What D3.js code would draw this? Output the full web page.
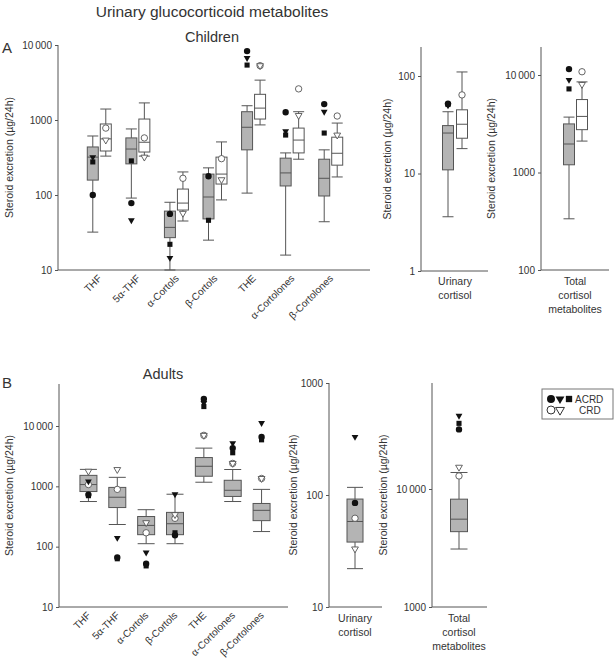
<!DOCTYPE html>
<html>
<head>
<meta charset="utf-8">
<script src="https://cdn.jsdelivr.net/npm/d3@7"></script>
<style>
  body { margin: 0; background: #fff; }
  svg { font-family: "Liberation Sans", Arial, sans-serif; }
  text { fill: #333; }
</style>
</head>
<body>
<svg id="chart" width="616" height="668"></svg>
<script>
// Categories
const categories = ["THF", "5α-THF", "α-Cortols", "β-Cortols", "THE", "α-Cortolones", "β-Cortolones"];

// Box stats: [whisker low, q1, median, q3, whisker high]
const childACRD = [
    [32, 158, 320, 437, 612],
    [91, 260, 410, 577, 760],
    [10, 27, 37, 61, 80],
    [25, 48, 94, 190, 230],
    [106, 400, 800, 1290, 1550],
    [15.8, 132, 197, 310, 364],
    [44, 97, 167, 300, 400]
];
const childCRD = [
    [330, 386, 560, 885, 1400],
    [330, 374, 505, 1030, 1690],
    [45, 63, 78, 120, 203],
    [86, 140, 190, 320, 510],
    [860, 1030, 1440, 2200, 3400],
    [300, 364, 540, 780, 1290],
    [174, 250, 360, 590, 910]
];
// Individual patients: [circle, triangle, square]
const childACRDPts = [
    [100, 320, 276],
    [78, 46, 285],
    [56, 14.5, 22],
    [178, null, 46],
    [8300, 6700, 5400],
    [1270, 710, 630],
    [1630, 1290, 670]
];
const childCRDPts = [
    [780, 540],
    [577, 320],
    [167, 57],
    [305, 160],
    [5300, 5300],
    [2600, 1150],
    [1130, 630]
];

const childCortisolACRD = [3.6, 10.9, 26, 31, 43];
const childCortisolCRD = [18, 23, 32, 45, 110];
const childCortisolACRDPts = [52, 50, 51];
const childCortisolCRDPts = [64, null];

const childTotalACRD = [335, 1200, 1960, 3150, 3700];
const childTotalCRD = [2100, 2750, 3760, 5600, 8500];
const childTotalACRDPts = [11500, 8900, 7200];
const childTotalCRDPts = [10800, 8000];

const adultBox = [
    [560, 820, 1070, 1520, 1910],
    [233, 445, 660, 960, 1410],
    [112, 158, 225, 316, 410],
    [112, 158, 240, 370, 740],
    [1170, 1470, 2150, 3000, 4300],
    [560, 680, 860, 1260, 1900],
    [178, 270, 400, 520, 890]
];
const adultACRDPts = [
    [730, 1210, 700],
    [66, 140, 63],
    [52, 80, 48],
    [155, 740, 170],
    [28000, 24000, 21000],
    [4300, 5200, 3600],
    [6600, 11200, 5900]
];
const adultCRDPts = [
    [1070, 1780],
    [890, 1900],
    [170, 250],
    [295, 340],
    [7000, 7000],
    [2400, 2400],
    [1350, 1350]
];

const adultCortisolBox = [22, 38, 58, 92, 117];
const adultCortisolACRDPts = [85, 330, null];
const adultCortisolCRDPts = [62, 33];

const adultTotalBox = [3100, 4350, 5550, 8200, 13800];
const adultTotalACRDPts = [32000, 41700, 36000];
const adultTotalCRDPts = [12900, 15300];

const GREY = "#b4b4b4";
const LINE = "#555";

const svg = d3.select("#chart");

const fmt = d => d >= 10000 ? String(d).replace(/(\d+)(\d{3})$/, "$1\u2009$2") : String(d);

// Draws an axis frame; returns y scale
function frame(o) {
    const y = d3.scaleLog().domain(o.domain).range(o.range);
    const g = svg.append("g");
    const axis = d3.axisLeft(y)
        .tickValues(o.ticks)
        .tickSize(3)
        .tickFormat(fmt);
    g.append("g")
        .attr("transform", `translate(${o.left},0)`)
        .call(axis)
        .call(a => a.select(".domain").remove())
        .call(a => a.selectAll("line").attr("stroke", LINE))
        .call(a => a.selectAll("text").attr("font-size", 10).attr("fill", "#333")
            .attr("font-family", "Liberation Sans, Arial, sans-serif"));
    g.append("line")
        .attr("x1", o.left).attr("x2", o.left)
        .attr("y1", o.range[0]).attr("y2", o.top)
        .attr("stroke", LINE);
    g.append("line")
        .attr("x1", o.left).attr("x2", o.right)
        .attr("y1", o.range[0]).attr("y2", o.range[0])
        .attr("stroke", LINE);
    const midY = (o.range[0] + o.top) / 2;
    g.append("text")
        .attr("transform", `translate(${o.labelX},${midY}) rotate(-90)`)
        .attr("text-anchor", "middle")
        .attr("font-size", 10.5)
        .text("Steroid excretion (µg/24h)");
    return y;
}

function box(y, cx, w, stats, fill) {
    const [lo, q1, med, q3, hi] = stats;
    const g = svg.append("g").attr("stroke", LINE).attr("stroke-width", 1);
    g.append("line").attr("x1", cx).attr("x2", cx).attr("y1", y(lo)).attr("y2", y(q1));
    g.append("line").attr("x1", cx).attr("x2", cx).attr("y1", y(q3)).attr("y2", y(hi));
    g.append("line").attr("x1", cx - w / 2).attr("x2", cx + w / 2).attr("y1", y(lo)).attr("y2", y(lo));
    g.append("line").attr("x1", cx - w / 2).attr("x2", cx + w / 2).attr("y1", y(hi)).attr("y2", y(hi));
    g.append("rect")
        .attr("x", cx - w / 2).attr("width", w)
        .attr("y", y(q3)).attr("height", y(q1) - y(q3))
        .attr("fill", fill);
    g.append("line").attr("x1", cx - w / 2).attr("x2", cx + w / 2).attr("y1", y(med)).attr("y2", y(med));
}

const shapes = [d3.symbolCircle, d3.symbolTriangle, d3.symbolSquare];
const sizes = [32, 20, 26];

function points(y, cx, vals, filled) {
    vals.forEach((v, i) => {
        if (v == null) return;
        const rot = i === 1 ? " rotate(180)" : "";
        svg.append("path")
            .attr("d", d3.symbol(shapes[i], sizes[i])())
            .attr("transform", `translate(${cx},${y(v)})${rot}`)
            .attr("fill", filled ? "#111" : "#fff")
            .attr("stroke", filled ? "none" : LINE)
            .attr("stroke-width", 0.9);
    });
}

function catLabels(x, base) {
    categories.forEach(c => {
        const cx = x(c) + x.bandwidth() / 2 + 3;
        svg.append("text")
            .attr("transform", `translate(${cx},${base + 9}) rotate(-45)`)
            .attr("text-anchor", "end")
            .attr("font-size", 10)
            .text(c);
    });
}

function multiLabel(cx, y0, lines) {
    lines.forEach((l, i) => {
        svg.append("text")
            .attr("x", cx).attr("y", y0 + i * 14)
            .attr("text-anchor", "middle")
            .attr("font-size", 10.5)
            .text(l);
    });
}

// Titles
svg.append("text").attr("x", 212).attr("y", 17).attr("text-anchor", "middle")
    .attr("font-size", 15.5).text("Urinary glucocorticoid metabolites");
svg.append("text").attr("x", 212).attr("y", 42).attr("text-anchor", "middle")
    .attr("font-size", 14.5).text("Children");
svg.append("text").attr("x", 2).attr("y", 53).attr("font-size", 15).text("A");
svg.append("text").attr("x", 163).attr("y", 379).attr("text-anchor", "middle")
    .attr("font-size", 14.5).text("Adults");
svg.append("text").attr("x", 2).attr("y", 388).attr("font-size", 15).text("B");

// ---- Panel A: children ----
const xA = d3.scaleBand().domain(categories).range([80, 350]);
const yA = frame({ domain: [10, 10000], range: [270, 45], top: 45, left: 58, right: 370,
    ticks: [10, 100, 1000, 10000], labelX: 13 });
categories.forEach((c, i) => {
    const cx = xA(c) + xA.bandwidth() / 2;
    box(yA, cx - 6.5, 11, childACRD[i], GREY);
    box(yA, cx + 6.5, 11, childCRD[i], "#fff");
    points(yA, cx - 6.5, childACRDPts[i], true);
    points(yA, cx + 6.5, childCRDPts[i], false);
});
catLabels(xA, 270);

const yAc = frame({ domain: [1, 100], range: [271, 76], top: 47, left: 421, right: 488,
    ticks: [1, 10, 100], labelX: 391 });
box(yAc, 448, 11, childCortisolACRD, GREY);
box(yAc, 462, 11, childCortisolCRD, "#fff");
points(yAc, 448, childCortisolACRDPts, true);
points(yAc, 462, childCortisolCRDPts, false);
multiLabel(455, 285, ["Urinary", "cortisol"]);

const yAt = frame({ domain: [100, 10000], range: [270, 75], top: 47, left: 541, right: 609,
    ticks: [100, 1000, 10000], labelX: 495 });
box(yAt, 569, 11, childTotalACRD, GREY);
box(yAt, 582, 11, childTotalCRD, "#fff");
points(yAt, 569, childTotalACRDPts, true);
points(yAt, 582, childTotalCRDPts, false);
multiLabel(575, 285, ["Total", "cortisol", "metabolites"]);

// ---- Panel B: adults ----
const xB = d3.scaleBand().domain(categories).range([74, 276]);
const yB = frame({ domain: [10, 10000], range: [607, 426], top: 384, left: 59, right: 288,
    ticks: [10, 100, 1000, 10000], labelX: 13 });
categories.forEach((c, i) => {
    const cx = xB(c) + xB.bandwidth() / 2;
    box(yB, cx, 17, adultBox[i], GREY);
    points(yB, cx, adultCRDPts[i], false);
    points(yB, cx, adultACRDPts[i], true);
});
catLabels(xB, 607);

const yBc = frame({ domain: [10, 1000], range: [607, 383], top: 383, left: 329, right: 382,
    ticks: [10, 100, 1000], labelX: 297 });
box(yBc, 355, 16, adultCortisolBox, GREY);
points(yBc, 355, adultCortisolCRDPts, false);
points(yBc, 355, adultCortisolACRDPts, true);
multiLabel(355, 622, ["Urinary", "cortisol"]);

const yBt = frame({ domain: [1000, 10000], range: [607, 489], top: 383, left: 432, right: 487,
    ticks: [1000, 10000], labelX: 387 });
box(yBt, 459, 17, adultTotalBox, GREY);
points(yBt, 459, adultTotalCRDPts, false);
points(yBt, 459, adultTotalACRDPts, true);
multiLabel(459, 622, ["Total", "cortisol", "metabolites"]);

// Legend
const lg = svg.append("g").attr("transform", "translate(542,389)");
lg.append("rect").attr("width", 71).attr("height", 30).attr("fill", "#fff").attr("stroke", "#777");
const legSizes = [50, 34, 40];
[[9, 0], [18, 1], [27, 2]].forEach(([lx, i]) => {
    lg.append("path").attr("d", d3.symbol(shapes[i], legSizes[i])())
        .attr("transform", `translate(${lx},10)${i === 1 ? " rotate(180)" : ""}`)
        .attr("fill", "#111");
});
[[9, 0], [18, 1]].forEach(([lx, i]) => {
    lg.append("path").attr("d", d3.symbol(shapes[i], legSizes[i])())
        .attr("transform", `translate(${lx},21)${i === 1 ? " rotate(180)" : ""}`)
        .attr("fill", "#fff").attr("stroke", "#333");
});
lg.append("text").attr("x", 33).attr("y", 14).attr("font-size", 10).text("ACRD");
lg.append("text").attr("x", 37).attr("y", 25).attr("font-size", 10).text("CRD");
</script>
</body>
</html>
